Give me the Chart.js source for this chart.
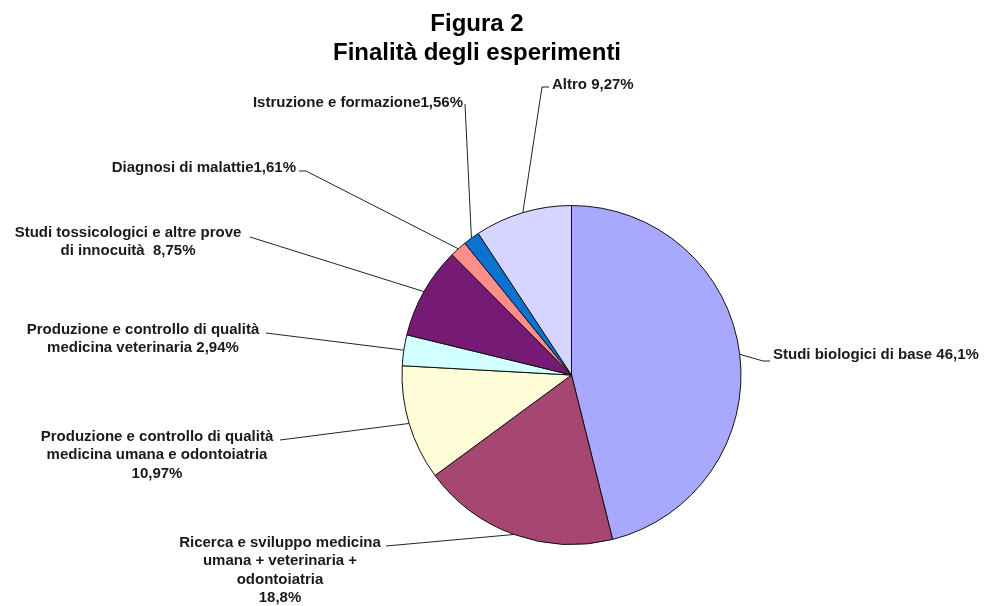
<!DOCTYPE html>
<html>
<head>
<meta charset="utf-8">
<script src="https://cdn.jsdelivr.net/npm/chart.js@4.4.1/dist/chart.umd.min.js"></script>
<style>
  html, body { margin: 0; padding: 0; background: #fff; }
  #wrap { position: relative; width: 987px; height: 606px; }
</style>
</head>
<body>
<div id="wrap"><canvas id="pieChart" width="987" height="606"></canvas></div>
<script>
// Data
const titleLines = ['Figura 2', 'Finalità degli esperimenti'];
const categories = [
    'Studi biologici di base',
    'Ricerca e sviluppo medicina umana + veterinaria + odontoiatria',
    'Produzione e controllo di qualità medicina umana e odontoiatria',
    'Produzione e controllo di qualità medicina veterinaria',
    'Studi tossicologici e altre prove di innocuità',
    'Diagnosi di malattie',
    'Istruzione e formazione',
    'Altro'
];
const values = [46.1, 18.8, 10.97, 2.94, 8.75, 1.61, 1.56, 9.27];
const valueText = ['46,1%', '18,8%', '10,97%', '2,94%', '8,75%', '1,61%', '1,56%', '9,27%'];
const labelText = [
    ['Studi biologici di base 46,1%'],
    ['Ricerca e sviluppo medicina', 'umana + veterinaria +', 'odontoiatria', '18,8%'],
    ['Produzione e controllo di qualità', 'medicina umana e odontoiatria', '10,97%'],
    ['Produzione e controllo di qualità', 'medicina veterinaria 2,94%'],
    ['Studi tossicologici e altre prove', 'di innocuità  8,75%'],
    ['Diagnosi di malattie1,61%'],
    ['Istruzione e formazione1,56%'],
    ['Altro 9,27%']
];
const colors = ['#a8a8ff', '#a54673', '#fffcd8', '#d2ffff', '#771a75', '#ff8e8a', '#0b72cf', '#d5d5ff'];

// Label layout: text anchor, alignment, and the leader line start/elbow
const labelLayout = [
    { x: 773, y: 355, align: 'left',   from: [770, 361], elbow: [763, 361] },
    { x: 280, y: 543, align: 'center', from: [386, 546], elbow: null },
    { x: 157, y: 437, align: 'center', from: [280, 440], elbow: null },
    { x: 143, y: 330, align: 'center', from: [266, 333], elbow: null },
    { x: 128, y: 233, align: 'center', from: [250, 237], elbow: null },
    { x: 296, y: 168, align: 'right',  from: [299, 171], elbow: [306, 171] },
    { x: 463, y: 103, align: 'right',  from: [465, 104], elbow: null },
    { x: 552, y: 85,  align: 'left',   from: [549, 87],  elbow: [542, 87] }
];

const FONT = '"Liberation Sans", Arial, Helvetica, sans-serif';

// Title, leader lines and slice labels
const labelPlugin = {
    id: 'pieLabels',
    afterDraw(chart) {
        const ctx = chart.ctx;
        const arcs = chart.getDatasetMeta(0).data;
        ctx.save();

        // title
        ctx.fillStyle = '#000';
        ctx.font = 'bold 24px ' + FONT;
        ctx.textAlign = 'center';
        ctx.textBaseline = 'middle';
        ctx.fillText(titleLines[0], 477, 24);
        ctx.fillText(titleLines[1], 477, 53);

        // leader lines
        ctx.strokeStyle = '#222';
        ctx.lineWidth = 1;
        arcs.forEach((arc, i) => {
            const p = arc.getProps(['x', 'y', 'startAngle', 'endAngle', 'outerRadius'], true);
            const mid = (p.startAngle + p.endAngle) / 2;
            const ex = p.x + Math.cos(mid) * p.outerRadius;
            const ey = p.y + Math.sin(mid) * p.outerRadius;
            const lay = labelLayout[i];
            ctx.beginPath();
            ctx.moveTo(lay.from[0], lay.from[1]);
            if (lay.elbow) ctx.lineTo(lay.elbow[0], lay.elbow[1]);
            ctx.lineTo(ex, ey);
            ctx.stroke();
        });

        // labels
        ctx.fillStyle = '#1a1a1a';
        ctx.font = 'bold 15px ' + FONT;
        labelText.forEach((lines, i) => {
            const lay = labelLayout[i];
            ctx.textAlign = lay.align;
            lines.forEach((line, j) => {
                ctx.fillText(line, lay.x, lay.y + j * 18.3);
            });
        });
        ctx.restore();
    }
};

const ctx = document.getElementById('pieChart').getContext('2d');
window.pieChart = new Chart(ctx, {
    type: 'pie',
    data: {
        labels: categories,
        datasets: [{
            data: values,
            backgroundColor: colors,
            borderColor: '#111',
            borderWidth: 1
        }]
    },
    options: {
        responsive: false,
        animation: false,
        layout: {
            padding: { left: 401, right: 245, top: 205, bottom: 61 }
        },
        plugins: {
            legend: { display: false },
            tooltip: { enabled: false },
            title: { display: false }
        }
    },
    plugins: [labelPlugin]
});
</script>
</body>
</html>
